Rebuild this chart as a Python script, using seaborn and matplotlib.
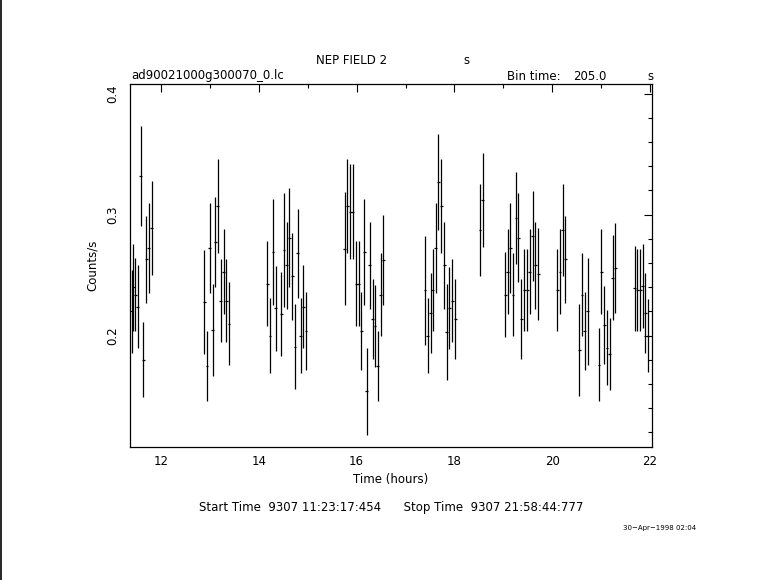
import matplotlib
matplotlib.use("Agg")
import matplotlib.pyplot as plt
from matplotlib.lines import Line2D
from matplotlib.ticker import MultipleLocator
import seaborn as sns
import pandas as pd


# light curve bins (hours, counts/s, 1-sigma error)
time_hr = [
    11.40, 11.43, 11.47, 11.52, 11.58, 11.635, 11.70, 11.75, 11.805,
    12.885, 12.94, 12.997, 13.053, 13.11, 13.16, 13.222, 13.28, 13.336, 13.392,
    14.176, 14.23, 14.291, 14.346, 14.461, 14.515, 14.57, 14.624, 14.685,
    14.74, 14.794, 14.855, 14.909, 14.964,
    15.759, 15.813, 15.867, 15.922, 15.99, 16.044, 16.092, 16.153, 16.207,
    16.268, 16.33, 16.377, 16.432, 16.493, 16.547,
    17.396, 17.45, 17.511, 17.559, 17.613, 17.674, 17.729, 17.79, 17.844,
    17.899, 17.953, 18.014,
    18.523, 18.578,
    19.04, 19.087, 19.142, 19.196, 19.257, 19.305, 19.366, 19.427, 19.488,
    19.543, 19.597, 19.651, 19.712,
    20.106, 20.16, 20.215, 20.269,
    20.554, 20.609, 20.663, 20.724,
    20.955, 21.003, 21.064, 21.118, 21.173, 21.234, 21.288,
    21.689, 21.737, 21.798, 21.852, 21.905, 21.95,
]

rate = [
    0.220, 0.240, 0.234, 0.224, 0.332, 0.180, 0.263, 0.2725, 0.289,
    0.228, 0.175, 0.2725, 0.205, 0.2775, 0.307, 0.229, 0.253, 0.229, 0.210,
    0.243, 0.200, 0.269, 0.2225, 0.218, 0.271, 0.258, 0.281, 0.249,
    0.191, 0.268, 0.200, 0.224, 0.204,
    0.272, 0.307, 0.3025, 0.3025, 0.243, 0.243, 0.204, 0.269, 0.154,
    0.258, 0.214, 0.208, 0.175, 0.234, 0.2625,
    0.2375, 0.200, 0.219, 0.238, 0.2725, 0.327, 0.307, 0.258, 0.203,
    0.223, 0.229, 0.214,
    0.2875, 0.312,
    0.234, 0.253, 0.2725, 0.234, 0.2975, 0.281, 0.214, 0.238, 0.238,
    0.253, 0.2825, 0.258, 0.251,
    0.238, 0.253, 0.2875, 0.263,
    0.188, 0.234, 0.204, 0.220,
    0.176, 0.253, 0.209, 0.190, 0.185, 0.248, 0.256,
    0.239, 0.238, 0.238, 0.241, 0.219, 0.200,
]

rate_err = [
    0.034, 0.036, 0.030, 0.034, 0.041, 0.031, 0.036, 0.037, 0.039,
    0.043, 0.029, 0.037, 0.038, 0.037, 0.039, 0.034, 0.035, 0.034, 0.034,
    0.035, 0.031, 0.044, 0.035, 0.035, 0.047, 0.036, 0.041, 0.036,
    0.035, 0.037, 0.031, 0.034, 0.032,
    0.047, 0.039, 0.039, 0.039, 0.035, 0.035, 0.032, 0.044, 0.036,
    0.036, 0.033, 0.034, 0.029, 0.034, 0.037,
    0.045, 0.031, 0.033, 0.034, 0.037, 0.040, 0.039, 0.036, 0.040,
    0.034, 0.034, 0.033,
    0.038, 0.039,
    0.035, 0.035, 0.037, 0.034, 0.038, 0.037, 0.033, 0.034, 0.034,
    0.035, 0.037, 0.036, 0.038,
    0.034, 0.035, 0.038, 0.036,
    0.038, 0.034, 0.032, 0.044,
    0.030, 0.035, 0.032, 0.031, 0.030, 0.035, 0.037,
    0.035, 0.034, 0.034, 0.035, 0.033, 0.030,
]

BIN_TIME = 205.0  # seconds
START_TIME = "9307 11:23:17:454"
STOP_TIME = "9307 21:58:44:777"


def main():
    sns.set_theme(style="white")
    plt.rcParams["font.family"] = ["DejaVu Sans"]
    plt.rcParams["text.color"] = "black"
    plt.rcParams["axes.labelcolor"] = "black"

    df = pd.DataFrame({"time": time_hr, "rate": rate, "err": rate_err})
    half_bin = BIN_TIME / 3600.0 / 2.0

    fig = plt.figure(figsize=(7.81, 5.80), dpi=100)
    fig.patch.set_facecolor("white")
    ax = fig.add_axes([0.1665, 0.2293, 0.6683, 0.6259])

    ax.errorbar(
        df["time"], df["rate"],
        xerr=half_bin, yerr=df["err"],
        fmt="none", ecolor="black", elinewidth=0.9, capsize=0,
    )

    ax.set_xlim(11.366, 22.04)
    ax.set_ylim(0.108, 0.408)

    ax.xaxis.set_major_locator(MultipleLocator(2))
    ax.xaxis.set_minor_locator(MultipleLocator(1))
    ax.yaxis.set_major_locator(MultipleLocator(0.1))
    ax.yaxis.set_minor_locator(MultipleLocator(0.02))
    ax.tick_params(which="both", direction="in", top=True, right=True,
                   color="black", width=0.8, labelsize=8.5, labelcolor="black")
    ax.tick_params(which="major", length=6)
    ax.tick_params(which="minor", length=3)
    ax.tick_params(axis="x", pad=6)
    ax.tick_params(axis="y", pad=8)
    for lab in ax.get_yticklabels():
        lab.set_rotation(90)
        lab.set_va("center")

    for sp in ax.spines.values():
        sp.set_color("black")
        sp.set_linewidth(0.9)
        sp.set_visible(True)

    ax.set_xlabel("Time (hours)", fontsize=8.5, labelpad=3)
    ax.set_ylabel("Counts/s", fontsize=8.5, labelpad=5)

    fs = 8.5
    fig.text(352 / 781, 1 - 60 / 580, "NEP FIELD 2", ha="center", va="center", fontsize=fs)
    fig.text(466 / 781, 1 - 60 / 580, "s", ha="center", va="center", fontsize=fs)
    fig.text(131 / 781, 1 - 76 / 580, "ad90021000g300070_0.lc", ha="left", va="center", fontsize=fs)
    fig.text(507 / 781, 1 - 76 / 580, "Bin time:", ha="left", va="center", fontsize=fs)
    fig.text(590 / 781, 1 - 76 / 580, f"{BIN_TIME:.1f}", ha="center", va="center", fontsize=fs)
    fig.text(650 / 781, 1 - 76 / 580, "s", ha="center", va="center", fontsize=fs)
    fig.text(391 / 781, 1 - 508 / 580,
             f"Start Time  {START_TIME}      Stop Time  {STOP_TIME}",
             ha="center", va="center", fontsize=fs)
    fig.text(660 / 781, 1 - 528 / 580, "30\u2212Apr\u22121998 02:04",
             ha="center", va="center", fontsize=5)

    fig.add_artist(Line2D([0.001, 0.001], [0, 1], transform=fig.transFigure,
                          color="black", lw=1.2))

    fig.savefig("out.png", dpi=100, facecolor="white")
    plt.close(fig)


if __name__ == "__main__":
    main()
